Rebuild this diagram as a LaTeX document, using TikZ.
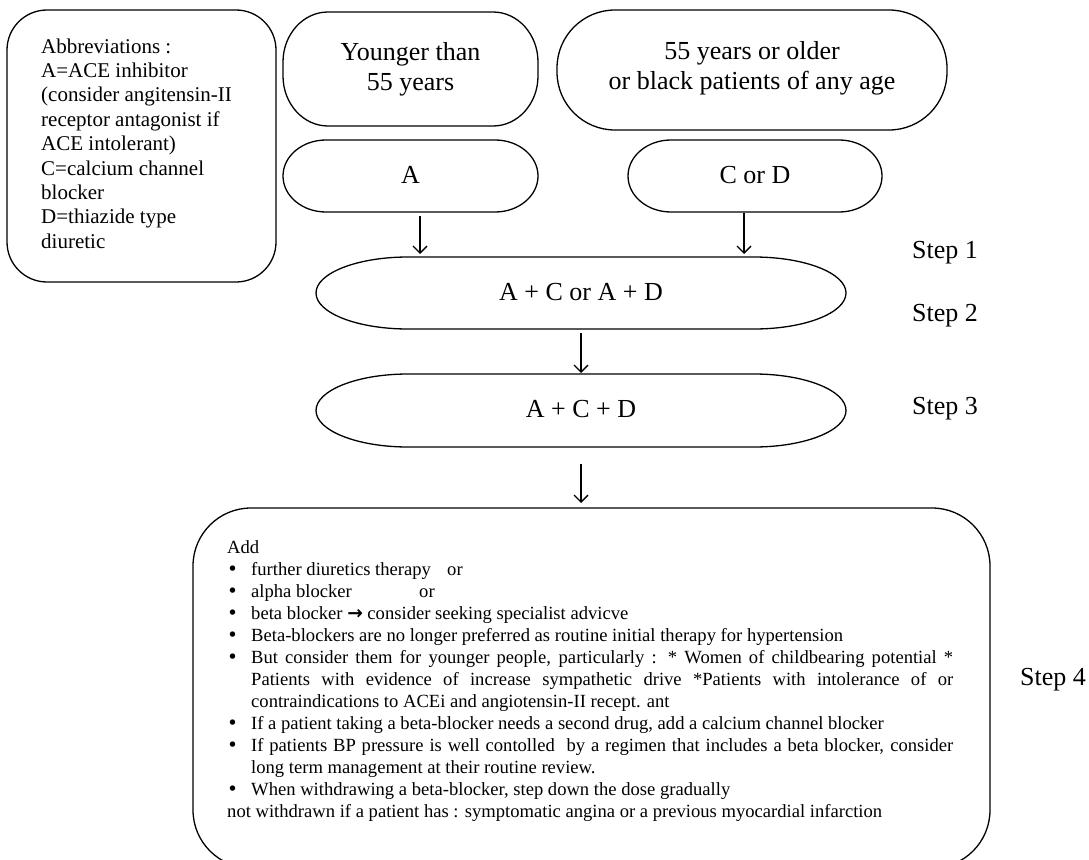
\documentclass[tikz,border=0pt]{standalone}
\usepackage{fontspec}
\setmainfont{Liberation Serif}
\newfontfamily\symfont{DejaVu Sans}
\usetikzlibrary{arrows.meta}
\newcommand\pilloutline[3]{%
 \draw[shapeline] ([xshift=#2]#1.north west) -- ([xshift=-#2]#1.north east)
 arc[start angle=90,end angle=0,x radius=#2,y radius=#3]
 -- ([yshift=#3]#1.south east)
 arc[start angle=0,end angle=-90,x radius=#2,y radius=#3]
 -- ([xshift=#2]#1.south west)
 arc[start angle=270,end angle=180,x radius=#2,y radius=#3]
 -- ([yshift=-#3]#1.north west)
 arc[start angle=180,end angle=90,x radius=#2,y radius=#3] -- cycle;}
\newcommand\bul{\makebox[24pt][l]{{\symfont •}}}
\begin{document}
\begin{tikzpicture}[x=1pt,y=-1pt,
  shapeline/.style={draw=black,line width=1.3pt},
  boxarea/.style={rectangle,inner sep=0pt,outer sep=0pt},
  roundbox/.style={boxarea,draw=black,line width=1.3pt},
  bigtext/.style={inner sep=0pt,anchor=base,font=\fontsize{26}{30}\selectfont},
  steptext/.style={inner sep=0pt,anchor=base west,font=\fontsize{26}{30}\selectfont},
  arr/.style={line width=1.3pt,-{Straight Barb[length=7pt,width=14pt]}}]
\clip (0,0) rectangle (1089,859);
% abbreviations
\node[roundbox,rounded corners=40pt,minimum width=269pt,minimum height=272pt] (abbr) at (141.5,146) {};
\node[inner sep=0pt,anchor=base west] (abbrtxt) at (41,53) {\parbox[t]{232pt}{\raggedright\fontsize{21}{24.4}\selectfont
Abbreviations :\\
A=ACE inhibitor\\
(consider angitensin-II\\
receptor antagonist if\\
ACE intolerant)\\
C=calcium channel\\
blocker\\
D=thiazide type\\
diuretic}};
% top boxes
\node[boxarea,minimum width=255pt,minimum height=114pt] (young) at (410.5,69) {};
\pilloutline{young}{45pt}{50pt}
\node[inner sep=0pt,align=center,font=\fontsize{26}{30}\selectfont] (youngtxt) at (410.5,69) {Younger than\\55 years};
\node[boxarea,minimum width=390pt,minimum height=120pt] (old) at (752,70) {};
\pilloutline{old}{58pt}{58pt}
\node[inner sep=0pt,align=center,font=\fontsize{26}{30}\selectfont] (oldtxt) at (752,68) {55 years or older\\or black patients of any age};
% A / C or D
\node[boxarea,minimum width=255pt,minimum height=72pt] (A) at (410.5,176) {};
\pilloutline{A}{43pt}{36pt}
\node[bigtext] (Atxt) at (410.5,183) {A};
\node[boxarea,minimum width=254pt,minimum height=72pt] (CD) at (755,176) {};
\pilloutline{CD}{43pt}{36pt}
\node[bigtext] (CDtxt) at (755,183) {C or D};
% step 2 / step 3
\node[boxarea,minimum width=530pt,minimum height=72pt] (s2) at (581,293) {};
\pilloutline{s2}{92pt}{36pt}
\node[bigtext] (s2txt) at (581,300) {A + C or A + D};
\node[boxarea,minimum width=530pt,minimum height=73pt] (s3) at (581,410.5) {};
\pilloutline{s3}{92pt}{36.5pt}
\node[bigtext] (s3txt) at (581,417) {A + C + D};
% step labels
\node[steptext] (st1) at (912,258) {Step 1};
\node[steptext] (st2) at (912,321) {Step 2};
\node[steptext] (st3) at (912,414) {Step 3};
\node[steptext] (st4) at (1020,685) {Step 4};
% big box
\node[roundbox,rounded corners=58pt,minimum width=797pt,minimum height=360pt] (big) at (591.5,688) {};
\node[inner sep=0pt,anchor=base west] (bigtxt) at (227,553) {\parbox[t]{740pt}{\fontsize{18.6}{22}\selectfont
Add\\
\bul\makebox[196pt][l]{further diuretics therapy}or\\
\bul\makebox[168pt][l]{alpha blocker}or\\
\bul beta blocker {\symfont\bfseries →} consider seeking specialist advicve\\
\bul Beta-blockers are no longer preferred as routine initial therapy for hypertension\\
\bul\makebox[702pt][s]{But consider them for younger people, particularly : * Women of childbearing potential *}\\
\hspace*{24pt}\makebox[702pt][s]{Patients with evidence of increase sympathetic drive *Patients with intolerance of or}\\
\hspace*{24pt}contraindications to ACEi and angiotensin-II recept. ant\\
\bul If a patient taking a beta-blocker needs a second drug, add a calcium channel blocker\\
\bul\makebox[702pt][s]{If patients BP pressure is well contolled\ \ by a regimen that includes a beta blocker, consider}\\
\hspace*{24pt}long term management at their routine review.\\
\bul When withdrawing a beta-blocker, step down the dose gradually\\
not withdrawn if a patient has : symptomatic angina or a previous myocardial infarction}};
% connectors
\coordinate (a1) at ([xshift=9.5pt,yshift=-4pt]A.south);
\coordinate (a1e) at (a1 |- s2.north);
\draw[arr] (a1) -- ([yshift=3pt]a1e);
\coordinate (c1) at ([xshift=-11pt,yshift=-1pt]CD.south);
\coordinate (c1e) at (c1 |- s2.north);
\draw[arr] (c1) -- ([yshift=3pt]c1e);
\draw[arr] ([yshift=-4pt]s2.south) -- ([yshift=1pt]s3.north);
\coordinate (b1) at ([yshift=-17pt]s3.south);
\coordinate (b1e) at (b1 |- big.north);
\draw[arr] (b1) -- ([yshift=5pt]b1e);
\end{tikzpicture}
\end{document}
